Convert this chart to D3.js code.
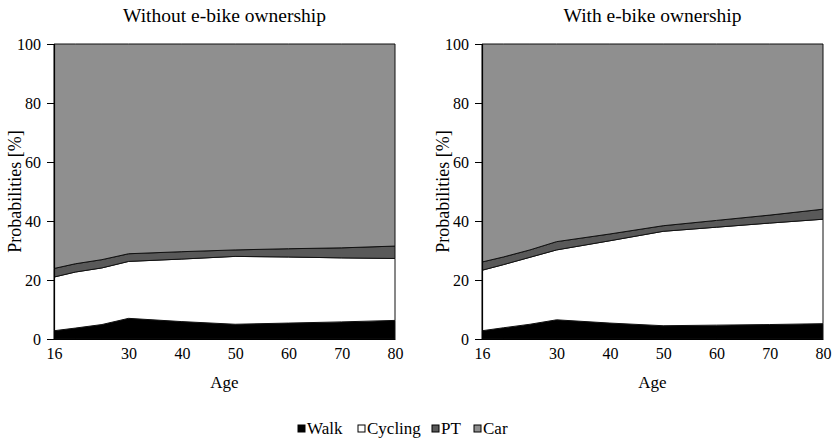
<!DOCTYPE html>
<html>
<head>
<meta charset="utf-8">
<script src="https://cdn.jsdelivr.net/npm/d3@7"></script>
<style>
  body { margin: 0; background: #fff; }
</style>
</head>
<body>
<div id="chart"></div>
<script>
// Ages at which the model was evaluated
const ages = [16, 20, 25, 30, 40, 50, 60, 70, 80];
const xTicks = [16, 30, 40, 50, 60, 70, 80];
const yTicks = [0, 20, 40, 60, 80, 100];
const modes = ['Walk', 'Cycling', 'PT', 'Car'];

// Without e-bike ownership (percent per mode)
const walkNo    = [2.8, 3.7, 4.9, 7.0, 5.9, 5.0, 5.4, 5.8, 6.3];
const cyclingNo = [18.2, 19.0, 19.2, 19.3, 21.2, 23.0, 22.4, 21.7, 21.0];
const ptNo      = [2.9, 2.8, 2.8, 2.6, 2.5, 2.2, 2.8, 3.4, 4.2];

// With e-bike ownership
const walkYes    = [2.8, 3.8, 5.0, 6.5, 5.4, 4.5, 4.7, 4.9, 5.2];
const cyclingYes = [20.5, 21.4, 22.7, 23.7, 27.9, 32.0, 33.2, 34.4, 35.4];
const ptYes      = [2.8, 2.6, 2.5, 2.8, 2.3, 1.9, 2.3, 2.7, 3.4];

const colors = { Walk: '#000000', Cycling: '#ffffff', PT: '#595959', Car: '#8f8f8f' };
const FONT = 'Liberation Serif';

function buildRows(walk, cycling, pt) {
  return ages.map((a, i) => ({
    age: a,
    Walk: walk[i],
    Cycling: cycling[i],
    PT: pt[i],
    Car: 100 - walk[i] - cycling[i] - pt[i]
  }));
}

const panels = [
  { title: 'Without e-bike ownership', rows: buildRows(walkNo, cyclingNo, ptNo), left: 54, right: 395 },
  { title: 'With e-bike ownership', rows: buildRows(walkYes, cyclingYes, ptYes), left: 482, right: 823 }
];

const W = 835, H = 439;
const plotTop = 44, plotBottom = 339;

const svg = d3.select('#chart').append('svg')
  .attr('width', W)
  .attr('height', H);

const y = d3.scaleLinear().domain([0, 100]).range([plotBottom, plotTop]);
const stack = d3.stack().keys(modes);

panels.forEach(p => {
  const x = d3.scaleLinear().domain([16, 80]).range([p.left, p.right]);
  const g = svg.append('g');
  const series = stack(p.rows);

  const area = d3.area()
    .x(d => x(d.data.age))
    .y0(d => y(d[0]))
    .y1(d => y(d[1]));

  g.selectAll('.layer')
    .data(series)
    .enter()
    .append('path')
    .attr('d', area)
    .attr('fill', d => colors[d.key])
    .attr('stroke', '#111')
    .attr('stroke-width', 1);

  // y axis
  const yAxis = g.append('g')
    .attr('transform', `translate(${p.left},0)`)
    .call(d3.axisLeft(y).tickValues(yTicks).tickSize(7).tickPadding(6));
  yAxis.select('.domain').attr('stroke', '#000').attr('stroke-width', 1.2);
  yAxis.selectAll('line').attr('stroke', '#000');
  yAxis.selectAll('text')
    .style('font-family', FONT).style('font-size', '16px').attr('fill', '#000');

  // x axis
  const xAxis = g.append('g')
    .attr('transform', `translate(0,${plotBottom})`)
    .call(d3.axisBottom(x).tickValues(xTicks).tickSize(0).tickPadding(9));
  xAxis.select('.domain').attr('stroke', '#000').attr('stroke-width', 1.2);
  xAxis.selectAll('text')
    .style('font-family', FONT).style('font-size', '16px').attr('fill', '#000');

  const cx = (p.left + p.right) / 2;
  g.append('text')
    .attr('x', cx).attr('y', 22)
    .attr('text-anchor', 'middle')
    .style('font-family', FONT).style('font-size', '19.5px')
    .text(p.title);

  g.append('text')
    .attr('x', cx).attr('y', 388)
    .attr('text-anchor', 'middle')
    .style('font-family', FONT).style('font-size', '17px')
    .text('Age');

  g.append('text')
    .attr('transform', `translate(${p.left - 33},${(plotTop + plotBottom) / 2}) rotate(-90)`)
    .attr('text-anchor', 'middle')
    .style('font-family', FONT).style('font-size', '18px')
    .text('Probabilities [%]');
});

// Legend
const legendX = [298, 358, 432, 474];
const legend = svg.append('g');
modes.forEach((m, i) => {
  legend.append('rect')
    .attr('x', legendX[i]).attr('y', 425)
    .attr('width', 7).attr('height', 7)
    .attr('fill', colors[m])
    .attr('stroke', '#000').attr('stroke-width', 1);
  legend.append('text')
    .attr('x', legendX[i] + 9).attr('y', 434)
    .style('font-family', FONT).style('font-size', '17px')
    .text(m);
});
</script>
</body>
</html>
